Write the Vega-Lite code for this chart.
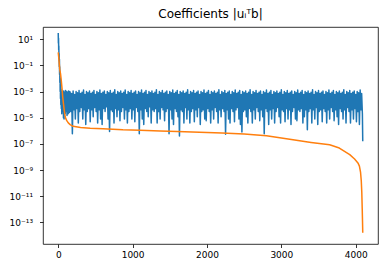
{
"$schema": "https://vega.github.io/schema/vega-lite/v6.json",
"width": 335, "height": 217,
"autosize": {"type": "none"},
"padding": {"left": 43, "top": 27, "right": 7, "bottom": 24},
"background": "white",
"title": {"text": "Coefficients |uᵢᵀb|", "font": "DejaVu Sans", "fontSize": 12, "fontWeight": "normal", "color": "#000", "offset": 6, "anchor": "middle"},
"config": {
  "view": {"stroke": "#000", "strokeWidth": 0.8},
  "axis": {"domain": false, "grid": false, "tickColor": "#000", "tickWidth": 0.8, "tickSize": 3.5, "labelFont": "DejaVu Sans", "labelFontSize": 9, "labelColor": "#000", "title": null}
},
"datasets": {
"blue": [
{"i":0,"v":30},{"i":2,"v":5},{"i":4,"v":12},{"i":6,"v":1.5},{"i":8,"v":3},{"i":10,"v":0.3},{"i":12,"v":0.8},{"i":14,"v":0.08},{"i":16,"v":0.3},{"i":18,"v":0.02},{"i":20,"v":0.08},{"i":22,"v":0.005},{"i":24,"v":0.03},{"i":26,"v":0.001},{"i":28,"v":0.01},{"i":30,"v":0.0003},{"i":32,"v":0.003},{"i":35,"v":0.0001},{"i":38,"v":0.0015},{"i":41,"v":5e-5},{"i":44,"v":9e-4},{"i":47,"v":2e-5},{"i":50,"v":7e-4},{"i":54,"v":4e-5},{"i":58,"v":1e-3},{"i":62,"v":3e-5},{"i":66,"v":8e-4},{"i":70,"v":1e-5},{"i":74,"v":1.1e-3},{"i":78,"v":8e-6},{"i":82,"v":7e-4},{"i":86,"v":4e-5},{"i":90,"v":9e-4},{"i":94,"v":2e-5},{"i":98,"v":1.2e-3},{"i":102,"v":5e-5},{"i":106,"v":8e-4},{"i":110,"v":3e-5},{"i":114,"v":1e-3},{"i":118,"v":1.5e-5},{"i":122,"v":7e-4},{"i":126,"v":4e-5},{"i":130,"v":9e-4},{"i":134,"v":2e-5},{"i":138,"v":1.1e-3},{"i":142,"v":6e-5},{"i":146,"v":8e-4},{"i":150,"v":2.5e-5},{"i":155,"v":1e-3},
{"i":160,"v":9e-4},{"i":170,"v":3e-5},{"i":180,"v":7e-4},{"i":190,"v":6e-7},{"i":200,"v":1.1e-3},{"i":210,"v":4e-5},{"i":220,"v":6e-4},{"i":230,"v":8e-6},{"i":240,"v":1e-3},{"i":250,"v":5e-5},{"i":260,"v":8e-4},{"i":270,"v":4e-6},{"i":280,"v":1.2e-3},{"i":290,"v":3e-5},{"i":300,"v":7e-4},{"i":310,"v":6e-5},{"i":320,"v":9e-4},{"i":330,"v":8e-6},{"i":340,"v":1.3e-3},{"i":350,"v":4e-5},{"i":360,"v":6e-4},{"i":370,"v":3e-6},{"i":380,"v":1e-3},{"i":390,"v":3e-5},{"i":400,"v":8e-4},{"i":410,"v":5e-5},{"i":420,"v":1.1e-3},{"i":430,"v":5e-6},{"i":440,"v":7e-4},{"i":450,"v":4e-5},{"i":460,"v":9e-4},{"i":470,"v":1.2e-5},{"i":480,"v":1.2e-3},{"i":490,"v":6e-5},{"i":500,"v":6e-4},{"i":510,"v":3e-5},{"i":520,"v":1e-3},{"i":530,"v":4e-6},{"i":540,"v":8e-4},{"i":550,"v":4e-5},{"i":560,"v":1.3e-3},{"i":570,"v":8e-6},{"i":580,"v":7e-4},{"i":590,"v":3e-6},{"i":600,"v":9e-4},{"i":610,"v":5e-5},{"i":620,"v":1.1e-3},{"i":630,"v":3e-5},{"i":640,"v":6e-4},{"i":650,"v":7e-5},{"i":660,"v":1e-3},{"i":670,"v":8e-6},{"i":680,"v":8e-4},{"i":690,"v":9e-7},{"i":700,"v":1.2e-3},{"i":710,"v":4e-5},{"i":720,"v":7e-4},{"i":730,"v":3e-5},{"i":740,"v":9e-4},{"i":750,"v":4e-6},{"i":760,"v":1.4e-3},{"i":770,"v":5e-5},{"i":780,"v":6e-4},{"i":790,"v":1.2e-5},{"i":800,"v":1e-3},{"i":810,"v":4e-5},{"i":820,"v":8e-4},{"i":830,"v":6e-6},{"i":840,"v":1.1e-3},{"i":850,"v":3e-5},{"i":860,"v":7e-4},{"i":870,"v":6e-5},{"i":880,"v":9e-4},{"i":890,"v":8e-6},{"i":900,"v":1.3e-3},{"i":910,"v":4e-5},{"i":920,"v":6e-4},{"i":930,"v":4e-6},{"i":940,"v":1e-3},{"i":950,"v":3e-5},{"i":960,"v":8e-4},{"i":970,"v":5e-5},{"i":980,"v":1.2e-3},{"i":990,"v":8e-6},
{"i":1000,"v":7e-4},{"i":1010,"v":4e-5},{"i":1020,"v":9e-4},{"i":1030,"v":5e-6},{"i":1040,"v":1.1e-3},{"i":1050,"v":6e-5},{"i":1060,"v":6e-4},{"i":1070,"v":3e-5},{"i":1080,"v":1e-3},{"i":1090,"v":6e-7},{"i":1100,"v":8e-4},{"i":1110,"v":4e-5},{"i":1120,"v":1.3e-3},{"i":1130,"v":8e-6},{"i":1140,"v":7e-4},{"i":1150,"v":3e-6},{"i":1160,"v":9e-4},{"i":1170,"v":5e-5},{"i":1180,"v":1.2e-3},{"i":1190,"v":3e-5},{"i":1200,"v":6e-4},{"i":1210,"v":1.2e-5},{"i":1220,"v":1e-3},{"i":1230,"v":7e-5},{"i":1240,"v":8e-4},{"i":1250,"v":4e-6},{"i":1260,"v":1.1e-3},{"i":1270,"v":4e-5},{"i":1280,"v":7e-4},{"i":1290,"v":3e-5},{"i":1300,"v":9e-4},{"i":1310,"v":5e-5},{"i":1320,"v":1.4e-3},{"i":1330,"v":4e-6},{"i":1340,"v":6e-4},{"i":1350,"v":3e-5},{"i":1360,"v":1e-3},{"i":1370,"v":8e-6},{"i":1380,"v":8e-4},{"i":1390,"v":6e-5},{"i":1400,"v":1.2e-3},{"i":1410,"v":4e-5},{"i":1420,"v":7e-4},{"i":1430,"v":6e-6},{"i":1440,"v":9e-4},{"i":1450,"v":3e-5},{"i":1460,"v":1.1e-3},{"i":1470,"v":5e-5},{"i":1480,"v":6e-4},{"i":1490,"v":6e-7},{"i":1500,"v":1e-3},{"i":1510,"v":4e-5},{"i":1520,"v":8e-4},{"i":1530,"v":8e-6},{"i":1540,"v":1.3e-3},{"i":1550,"v":3e-6},{"i":1560,"v":7e-4},{"i":1570,"v":5e-5},{"i":1580,"v":9e-4},{"i":1590,"v":3e-5},{"i":1600,"v":1.2e-3},{"i":1610,"v":1.2e-5},{"i":1620,"v":6e-4},{"i":1630,"v":4e-7},{"i":1640,"v":1e-3},{"i":1650,"v":4e-5},{"i":1660,"v":8e-4},{"i":1670,"v":3e-5},{"i":1680,"v":1.1e-3},{"i":1690,"v":4e-6},{"i":1700,"v":7e-4},{"i":1710,"v":6e-5},{"i":1720,"v":9e-4},{"i":1730,"v":8e-6},{"i":1740,"v":1.4e-3},{"i":1750,"v":4e-5},{"i":1760,"v":6e-4},{"i":1770,"v":4e-6},{"i":1780,"v":1e-3},{"i":1790,"v":3e-5},{"i":1800,"v":8e-4},{"i":1810,"v":5e-5},{"i":1820,"v":1.2e-3},{"i":1830,"v":5e-6},{"i":1840,"v":7e-4},{"i":1850,"v":4e-5},{"i":1860,"v":9e-4},{"i":1870,"v":1.2e-5},{"i":1880,"v":1.1e-3},{"i":1890,"v":6e-5},{"i":1900,"v":6e-4},{"i":1910,"v":3e-6},{"i":1920,"v":1e-3},{"i":1930,"v":3e-5},{"i":1940,"v":8e-4},{"i":1950,"v":4e-5},{"i":1960,"v":1.3e-3},{"i":1970,"v":8e-6},{"i":1980,"v":7e-4},{"i":1990,"v":6e-6},
{"i":2000,"v":9e-4},{"i":2010,"v":5e-5},{"i":2020,"v":1.2e-3},{"i":2030,"v":3e-5},{"i":2040,"v":6e-4},{"i":2050,"v":4e-6},{"i":2060,"v":1e-3},{"i":2070,"v":4e-5},{"i":2080,"v":8e-4},{"i":2090,"v":8e-6},{"i":2100,"v":1.1e-3},{"i":2110,"v":6e-5},{"i":2120,"v":7e-4},{"i":2130,"v":3e-5},{"i":2140,"v":9e-4},{"i":2150,"v":4e-6},{"i":2160,"v":1.4e-3},{"i":2170,"v":4e-5},{"i":2180,"v":6e-4},{"i":2190,"v":1.2e-5},{"i":2200,"v":1e-3},{"i":2210,"v":5e-5},{"i":2220,"v":8e-4},{"i":2230,"v":3e-5},{"i":2240,"v":1.2e-3},{"i":2250,"v":5.5e-7},{"i":2260,"v":7e-4},{"i":2270,"v":4e-5},{"i":2280,"v":9e-4},{"i":2290,"v":8e-6},{"i":2300,"v":1.1e-3},{"i":2310,"v":4e-6},{"i":2320,"v":6e-4},{"i":2330,"v":5e-5},{"i":2340,"v":1e-3},{"i":2350,"v":3e-5},{"i":2360,"v":8e-4},{"i":2370,"v":5e-6},{"i":2380,"v":1.3e-3},{"i":2390,"v":4e-5},{"i":2400,"v":7e-4},{"i":2410,"v":6e-5},{"i":2420,"v":9e-4},{"i":2430,"v":8e-6},{"i":2440,"v":1.2e-3},{"i":2450,"v":3e-6},{"i":2460,"v":6e-4},{"i":2470,"v":8e-7},{"i":2480,"v":1e-3},{"i":2490,"v":3e-5},{"i":2500,"v":8e-4},{"i":2510,"v":4e-5},{"i":2520,"v":1.1e-3},{"i":2530,"v":1.2e-5},{"i":2540,"v":7e-4},{"i":2550,"v":4e-6},{"i":2560,"v":9e-4},{"i":2570,"v":5e-5},{"i":2580,"v":1.4e-3},{"i":2590,"v":3e-5},{"i":2600,"v":6e-4},{"i":2610,"v":4e-6},{"i":2620,"v":1e-3},{"i":2630,"v":4e-5},{"i":2640,"v":8e-4},{"i":2650,"v":8e-6},{"i":2660,"v":1.2e-3},{"i":2670,"v":6e-5},{"i":2680,"v":7e-4},{"i":2690,"v":3e-5},{"i":2700,"v":9e-4},{"i":2710,"v":6e-6},{"i":2720,"v":1.1e-3},{"i":2730,"v":4e-5},{"i":2740,"v":6e-4},{"i":2750,"v":1.2e-5},{"i":2760,"v":1e-3},{"i":2770,"v":6e-7},{"i":2780,"v":8e-4},{"i":2790,"v":5e-5},{"i":2800,"v":1.3e-3},{"i":2810,"v":3e-5},{"i":2820,"v":7e-4},{"i":2830,"v":3e-6},{"i":2840,"v":9e-4},{"i":2850,"v":4e-5},{"i":2860,"v":1.2e-3},{"i":2870,"v":8e-6},{"i":2880,"v":6e-4},{"i":2890,"v":5e-5},{"i":2900,"v":1e-3},{"i":2910,"v":4e-6},{"i":2920,"v":8e-4},{"i":2930,"v":3e-5},{"i":2940,"v":1.1e-3},{"i":2950,"v":6e-5},{"i":2960,"v":7e-4},{"i":2970,"v":1.2e-5},{"i":2980,"v":9e-4},{"i":2990,"v":4e-6},
{"i":3000,"v":1.4e-3},{"i":3010,"v":4e-5},{"i":3020,"v":6e-4},{"i":3030,"v":3e-5},{"i":3040,"v":1e-3},{"i":3050,"v":5e-6},{"i":3060,"v":8e-4},{"i":3070,"v":5e-5},{"i":3080,"v":1.2e-3},{"i":3090,"v":8e-6},{"i":3100,"v":7e-4},{"i":3110,"v":4e-5},{"i":3120,"v":9e-4},{"i":3130,"v":3e-6},{"i":3140,"v":1.1e-3},{"i":3150,"v":3e-5},{"i":3160,"v":6e-4},{"i":3170,"v":6e-5},{"i":3180,"v":1e-3},{"i":3190,"v":8e-6},{"i":3200,"v":8e-4},{"i":3210,"v":6e-6},{"i":3220,"v":1.3e-3},{"i":3230,"v":4e-5},{"i":3240,"v":7e-4},{"i":3250,"v":3e-5},{"i":3260,"v":9e-4},{"i":3270,"v":5e-5},{"i":3280,"v":1.2e-3},{"i":3290,"v":4e-6},{"i":3300,"v":6e-4},{"i":3310,"v":1.2e-5},{"i":3320,"v":1e-3},{"i":3330,"v":4e-5},{"i":3340,"v":8e-4},{"i":3350,"v":1.2e-6},{"i":3360,"v":1.1e-3},{"i":3370,"v":3e-5},{"i":3380,"v":7e-4},{"i":3390,"v":5e-5},{"i":3400,"v":9e-4},{"i":3410,"v":4e-6},{"i":3420,"v":1.4e-3},{"i":3430,"v":4e-5},{"i":3440,"v":6e-4},{"i":3450,"v":8e-6},{"i":3460,"v":1e-3},{"i":3470,"v":6e-5},{"i":3480,"v":8e-4},{"i":3490,"v":3e-6},{"i":3500,"v":1.2e-3},{"i":3510,"v":3e-5},{"i":3520,"v":7e-4},{"i":3530,"v":4e-5},{"i":3540,"v":9e-4},{"i":3550,"v":5e-6},{"i":3560,"v":1.1e-3},{"i":3570,"v":5e-5},{"i":3580,"v":6e-4},{"i":3590,"v":3e-5},{"i":3600,"v":1e-3},{"i":3610,"v":4e-6},{"i":3620,"v":8e-4},{"i":3630,"v":4e-5},{"i":3640,"v":1.3e-3},{"i":3650,"v":8e-6},{"i":3660,"v":7e-4},{"i":3670,"v":6e-5},{"i":3680,"v":9e-4},{"i":3690,"v":3e-5},{"i":3700,"v":1.2e-3},{"i":3710,"v":6e-6},{"i":3720,"v":6e-4},{"i":3730,"v":4e-5},{"i":3740,"v":1e-3},{"i":3750,"v":1.2e-5},{"i":3760,"v":8e-4},{"i":3770,"v":3e-6},{"i":3780,"v":1.1e-3},{"i":3790,"v":5e-5},{"i":3800,"v":7e-4},{"i":3810,"v":3e-5},{"i":3820,"v":9e-4},{"i":3830,"v":8e-6},{"i":3840,"v":1.4e-3},{"i":3850,"v":4e-5},{"i":3860,"v":6e-4},{"i":3870,"v":4e-6},{"i":3880,"v":1e-3},{"i":3890,"v":6e-5},{"i":3900,"v":8e-4},{"i":3910,"v":3e-5},{"i":3920,"v":1.2e-3},{"i":3930,"v":4e-6},{"i":3940,"v":7e-4},{"i":3950,"v":4e-5},{"i":3960,"v":9e-4},{"i":3970,"v":8e-6},{"i":3980,"v":1.1e-3},{"i":3990,"v":5e-5},
{"i":4000,"v":6e-4},{"i":4010,"v":5e-6},{"i":4020,"v":1e-3},{"i":4030,"v":3e-5},{"i":4040,"v":8e-4},{"i":4050,"v":3e-6},{"i":4060,"v":1.3e-3},{"i":4070,"v":4e-5},{"i":4080,"v":7e-4},{"i":4090,"v":2e-5},{"i":4095,"v":1.6e-7}
],
"orange": [
{"i":0,"v":1.0},{"i":5,"v":0.5},{"i":10,"v":0.25},{"i":20,"v":0.05},{"i":30,"v":0.025},{"i":40,"v":0.008},{"i":50,"v":0.002},{"i":60,"v":4e-4},{"i":70,"v":1.2e-4},{"i":80,"v":4e-5},{"i":90,"v":1.6e-5},{"i":100,"v":9e-6},{"i":115,"v":6e-6},{"i":135,"v":4e-6},{"i":160,"v":3e-6},{"i":200,"v":2.2e-6},{"i":300,"v":1.8e-6},{"i":430,"v":1.6e-6},{"i":600,"v":1.45e-6},{"i":870,"v":1.2e-6},{"i":1100,"v":1.1e-6},{"i":1370,"v":9.5e-7},{"i":1600,"v":8.8e-7},{"i":1900,"v":7.9e-7},{"i":2200,"v":6.8e-7},{"i":2500,"v":5.6e-7},{"i":2800,"v":4.2e-7},{"i":3180,"v":2e-7},{"i":3400,"v":1.3e-7},{"i":3650,"v":8.5e-8},{"i":3780,"v":4.8e-8},{"i":3920,"v":1.5e-8},{"i":3985,"v":7e-9},{"i":4030,"v":3.5e-9},{"i":4050,"v":2e-9},{"i":4065,"v":7e-10},{"i":4075,"v":1.5e-10},{"i":4082,"v":2e-11},{"i":4088,"v":1e-12},{"i":4092,"v":1e-13},{"i":4095,"v":1.6e-14}
]
},
"layer": [
{
  "data": {"name": "blue"},
  "mark": {"type": "line", "color": "#1f77b4", "strokeWidth": 1.5, "strokeJoin": "round", "clip": true},
  "encoding": {
    "x": {"field": "i", "type": "quantitative", "scale": {"domain": [-205, 4300], "nice": false, "zero": false}, "axis": {"values": [0, 1000, 2000, 3000, 4000], "format": "d", "labelPadding": 3, "labelFlush": false}},
    "y": {"field": "v", "type": "quantitative", "scale": {"type": "log", "domain": [2.2e-15, 87], "nice": false}, "axis": {"values": [10, 0.1, 0.001, 1e-5, 1e-7, 1e-9, 1e-11, 1e-13], "labelPadding": 7, "labelExpr": "datum.value > 1 ? '10¹' : datum.value > 0.01 ? '10⁻¹' : datum.value > 1e-4 ? '10⁻³' : datum.value > 1e-6 ? '10⁻⁵' : datum.value > 1e-8 ? '10⁻⁷' : datum.value > 1e-10 ? '10⁻⁹' : datum.value > 1e-12 ? '10⁻¹¹' : '10⁻¹³'"}}
  }
},
{
  "data": {"name": "orange"},
  "mark": {"type": "line", "color": "#ff7f0e", "strokeWidth": 1.5, "strokeJoin": "round", "clip": true},
  "encoding": {
    "x": {"field": "i", "type": "quantitative"},
    "y": {"field": "v", "type": "quantitative"}
  }
}
]
}
